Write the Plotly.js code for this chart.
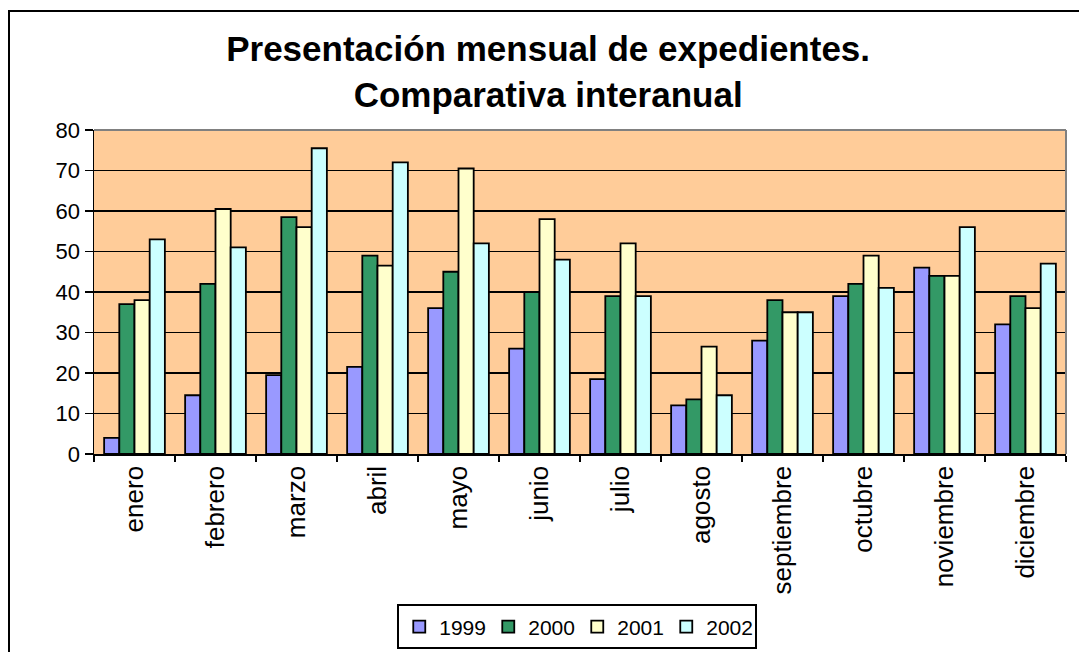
<!DOCTYPE html>
<html>
<head>
<meta charset="utf-8">
<script src="https://cdn.plot.ly/plotly-3.0.1.min.js"></script>
<style>
  html, body { margin: 0; padding: 0; background: #ffffff; }
  #chart { width: 1079px; height: 652px; }
  #frame { position: absolute; left: 8px; top: 10px; width: 1090px; height: 660px;
           border: 2px solid #000; pointer-events: none; z-index: 10; }
</style>
</head>
<body>
<div id="chart"></div>
<div id="frame"></div>
<script>
const months = ["enero","febrero","marzo","abril","mayo","junio","julio","agosto","septiembre","octubre","noviembre","diciembre"];
const years = ["1999","2000","2001","2002"];
const v1999 = [4, 14.5, 19.5, 21.5, 36, 26, 18.5, 12, 28, 39, 46, 32];
const v2000 = [37, 42, 58.5, 49, 45, 40, 39, 13.5, 38, 42, 44, 39];
const v2001 = [38, 60.5, 56, 46.5, 70.5, 58, 52, 26.5, 35, 49, 44, 36];
const v2002 = [53, 51, 75.5, 72, 52, 48, 39, 14.5, 35, 41, 56, 47];
const colors = ["#9999FF", "#339966", "#FFFFCC", "#CCFFFF"];
const seriesValues = [v1999, v2000, v2001, v2002];

const traces = years.map((y, i) => ({
  type: "bar",
  name: y,
  x: months,
  y: seriesValues[i],
  marker: { color: colors[i], line: { color: "#000000", width: 1.8 } },
  hoverinfo: "x+y+name"
}));

const layout = {
  width: 1079,
  height: 652,
  paper_bgcolor: "rgba(0,0,0,0)",
  plot_bgcolor: "#FFCC99",
  margin: { l: 94, r: 13, t: 130, b: 198 },
  font: { family: "Liberation Sans, Arial, sans-serif", color: "#000000", size: 20 },
  title: {
    text: "<b>Presentación mensual de expedientes.<br>Comparativa interanual</b>",
    font: { family: "Liberation Sans, Arial, sans-serif", size: 35, color: "#000000" },
    x: 0.508, xanchor: "center", xref: "container",
    y: 0.906, yanchor: "middle", yref: "container"
  },
  barmode: "group",
  bargap: 0.25,
  bargroupgap: 0,
  xaxis: {
    type: "category",
    tickangle: -90,
    ticks: "outside",
    tickson: "boundaries",
    ticklen: 6,
    tickcolor: "#000000",
    tickwidth: 1.5,
    showline: true,
    linecolor: "#000000",
    linewidth: 1.5,
    showgrid: false,
    tickfont: { size: 26 },
    automargin: false
  },
  yaxis: {
    range: [0, 80],
    dtick: 10,
    ticks: "outside",
    ticklen: 8,
    tickcolor: "#000000",
    tickwidth: 1.5,
    showline: true,
    linecolor: "#000000",
    linewidth: 1.5,
    showgrid: true,
    gridcolor: "#000000",
    gridwidth: 1.4,
    zeroline: false,
    tickfont: { size: 22 },
    automargin: false
  },
  shapes: [
    { type: "line", xref: "paper", yref: "paper", x0: 0, x1: 1, y0: 1, y1: 1,
      line: { color: "#808080", width: 2 } },
    { type: "line", xref: "paper", yref: "paper", x0: 1, x1: 1, y0: 0, y1: 1,
      line: { color: "#808080", width: 2 } }
  ],
  showlegend: true,
  legend: {
    orientation: "h",
    x: 0.535, xanchor: "center", xref: "container",
    y: 0.073, yanchor: "top", yref: "container",
    bordercolor: "#000000",
    borderwidth: 2,
    bgcolor: "#ffffff",
    font: { size: 21 },
    itemwidth: 30,
    entrywidth: 44,
    traceorder: "normal"
  }
};

Plotly.newPlot("chart", traces, layout, { displayModeBar: false, staticPlot: true });
</script>
</body>
</html>
